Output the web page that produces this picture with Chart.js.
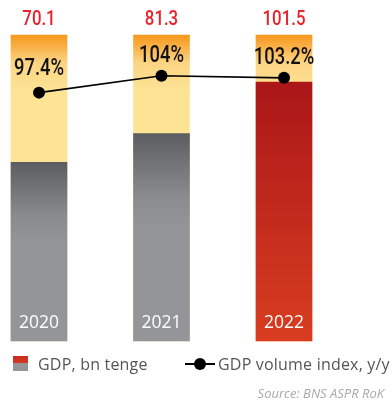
<!DOCTYPE html>
<html>
<head>
<meta charset="utf-8">
<script src="https://cdn.jsdelivr.net/npm/chart.js@4/dist/chart.umd.min.js"></script>
<style>
  html, body { margin: 0; padding: 0; background: #fff; }
  #wrap { position: relative; width: 392px; height: 403px; overflow: hidden; }
  canvas { position: absolute; left: 0; top: 0; }
  .legend { position: absolute; font-family: "Open Sans", "DejaVu Sans", sans-serif; color: #555; font-size: 16px; letter-spacing: 0.2px; white-space: nowrap; }
  .swatch { position: absolute; left: 13px; top: 356px; width: 15px; height: 15px;
            background: linear-gradient(#c92a1e 0, #d83c20 50%, #939598 50%, #939598 100%); }
  .lineKey { position: absolute; left: 185px; top: 363px; width: 30px; height: 1.5px; background: #000; }
  .dotKey { position: absolute; left: 194px; top: 358px; width: 12px; height: 12px; border-radius: 50%; background: #000; }
  .source { position: absolute; right: 8px; top: 384px; font-family: "Open Sans", "DejaVu Sans", sans-serif;
            font-style: italic; font-size: 13px; color: #a8a8a8; white-space: nowrap; }
</style>
</head>
<body>
<div id="wrap">
  <canvas id="c" width="392" height="403"></canvas>
  <div class="swatch"></div>
  <div class="legend" style="left:38px; top:353px;">GDP, bn tenge</div>
  <div class="lineKey"></div>
  <div class="dotKey"></div>
  <div class="legend" style="left:218px; top:353px;">GDP volume index, y/y</div>
  <div class="source">Source: BNS ASPR RoK</div>
</div>
<script>
// Years on the horizontal axis
const years = ['2020', '2021', '2022'];
// GDP, bn tenge
const gdp = [70.1, 81.3, 101.5];
// GDP volume index, y/y (%)
const volumeIndex = [97.4, 104, 103.2];
// Full-height backdrop column (top of the value scale)
const scaleTop = [120, 120, 120];
// Text shown for the index points
const indexLabels = ['97.4%', '104%', '103.2%'];

function columnGradient(ctx, value, stops) {
  const chart = ctx.chart;
  if (!chart.chartArea) return stops[stops.length - 1][1];
  const y = chart.scales.y;
  const top = y.getPixelForValue(value);
  const bottom = y.getPixelForValue(0);
  const g = chart.ctx.createLinearGradient(0, top, 0, bottom);
  stops.forEach(s => g.addColorStop(s[0], s[1]));
  return g;
}

// condensed text: draw with a horizontal squeeze around the anchor
function narrowText(c, text, x, y, squeeze) {
  c.save();
  c.translate(x, y);
  c.scale(squeeze, 1);
  c.fillText(text, 0, 0);
  c.restore();
}

const labelPlugin = {
  id: 'labels',
  afterDatasetsDraw(chart) {
    const c = chart.ctx;
    const barMeta = chart.getDatasetMeta(1);
    const lineMeta = chart.getDatasetMeta(0);
    const bottom = chart.scales.y.getPixelForValue(0);
    c.save();
    c.textAlign = 'center';
    c.textBaseline = 'middle';
    barMeta.data.forEach((bar, i) => {
      // value above column
      c.fillStyle = '#e8232c';
      c.font = '500 21px Roboto, sans-serif';
      narrowText(c, String(gdp[i]), bar.x, 19.5, 0.8);
      // year inside column bottom
      c.fillStyle = '#ffffff';
      c.font = '17.5px "Open Sans", "DejaVu Sans", sans-serif';
      c.fillText(years[i], bar.x, bottom - 18);
    });
    lineMeta.data.forEach((pt, i) => {
      c.fillStyle = '#111';
      c.font = '500 23px Roboto, sans-serif';
      const dy = i === 0 ? 23 : 20;
      narrowText(c, indexLabels[i], pt.x, pt.y - dy, 0.8);
    });
    c.restore();
  }
};

new Chart(document.getElementById('c'), {
  data: {
    labels: years,
    datasets: [
      {
        type: 'line',
        label: 'GDP volume index, y/y',
        data: volumeIndex,
        order: 0,
        borderColor: '#000',
        borderWidth: 1.6,
        pointRadius: 6,
        pointBackgroundColor: '#000',
        pointBorderWidth: 0,
        tension: 0
      },
      {
        type: 'bar',
        label: 'GDP, bn tenge',
        data: gdp,
        order: 1,
        grouped: false,
        barThickness: 56,
        clip: false,
        backgroundColor: (ctx) => {
          const v = gdp[ctx.dataIndex];
          if (ctx.dataIndex === 2) {
            return columnGradient(ctx, v, [[0, '#ab1719'], [1, '#d83d20']]);
          }
          return columnGradient(ctx, v, [[0, '#5c5d61'], [0.3, '#8a8b8e'], [0.45, '#939598'], [1, '#939598']]);
        }
      },
      {
        type: 'bar',
        label: 'scale',
        data: scaleTop,
        order: 2,
        grouped: false,
        barThickness: 56,
        clip: false,
        backgroundColor: (ctx) => columnGradient(ctx, scaleTop[ctx.dataIndex],
          [[0, '#f6971b'], [0.09, '#fcd483'], [0.18, '#fde394'], [1, '#fde394']])
      }
    ]
  },
  options: {
    responsive: false,
    animation: false,
    events: [],
    layout: { padding: { left: 39, right: 108, top: 35, bottom: 62 } },
    plugins: { legend: { display: false }, tooltip: { enabled: false } },
    scales: {
      x: { type: 'category', offset: false, display: false },
      y: { min: 0, max: 120, display: false }
    }
  },
  plugins: [labelPlugin]
});
</script>
</body>
</html>
